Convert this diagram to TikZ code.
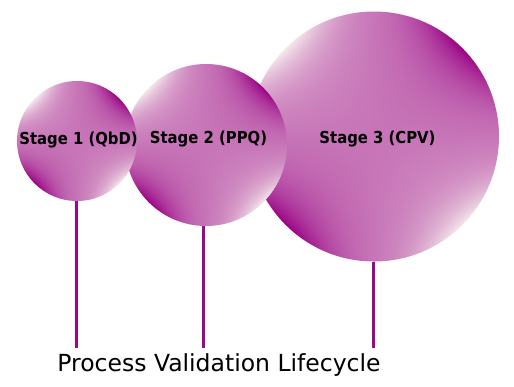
\documentclass[tikz,border=0pt]{standalone}
\usepackage{fontspec}
\setmainfont{DejaVu Sans}
\newfontfamily\labelfont{DejaVu Sans}[FakeStretch=0.9]
\pgfdeclarefunctionalshading{saddle}{\pgfpointorigin}{\pgfpoint{100bp}{100bp}}{}{
  50 sub 25 div exch 50 sub 25 div mul 2 mul
  dup dup mul 0.6 mul 0.4 add mul
  dup -0.18 mul 0.78 add
  exch dup -0.45 mul 0.46 add
  exch -0.2 mul 0.72 add
}
\definecolor{stemcol}{RGB}{152,8,136}
\tikzset{
  stage/.style={circle, inner sep=0pt, shading=saddle},
  stagelabel/.style={inner sep=0pt, text=black, font=\labelfont\fontsize{16.5bp}{19bp}\selectfont\bfseries},
  stem/.style={draw=stemcol, line width=3bp},
  titletext/.style={inner sep=0pt, text=black, font=\fontsize{23.5bp}{27bp}\selectfont}
}
\begin{document}
\begin{tikzpicture}[x=1bp, y=-1bp]
  \useasboundingbox (0,0) rectangle (514,386);
  % stem end points
  \coordinate (e1) at (76,348);
  \coordinate (e2) at (203,348);
  \coordinate (e3) at (373,348);
  % circles (back to front)
  \node[stage, minimum size=250bp] (c3) at (374,136.5) {};
  \node[stage, minimum size=162bp] (c2) at (206,145) {};
  \node[stage, minimum size=120bp] (c1) at (77,141) {};
  % stems
  \draw[stem] (e1 |- c1.south) -- (e1);
  \draw[stem] (e2 |- c2.south) -- (e2);
  \draw[stem] (e3 |- c3.south) -- (e3);
  % labels
  \node[stagelabel] (l1) at (78.5,140.5) {Stage 1 (QbD)};
  \node[stagelabel] (l2) at (208.5,139) {Stage 2 (PPQ)};
  \node[stagelabel] (l3) at (377.5,139.5) {Stage 3 (CPV)};
  \node[titletext, anchor=base] (title) at (219,371.5) {Process Validation Lifecycle};
\end{tikzpicture}
\end{document}
